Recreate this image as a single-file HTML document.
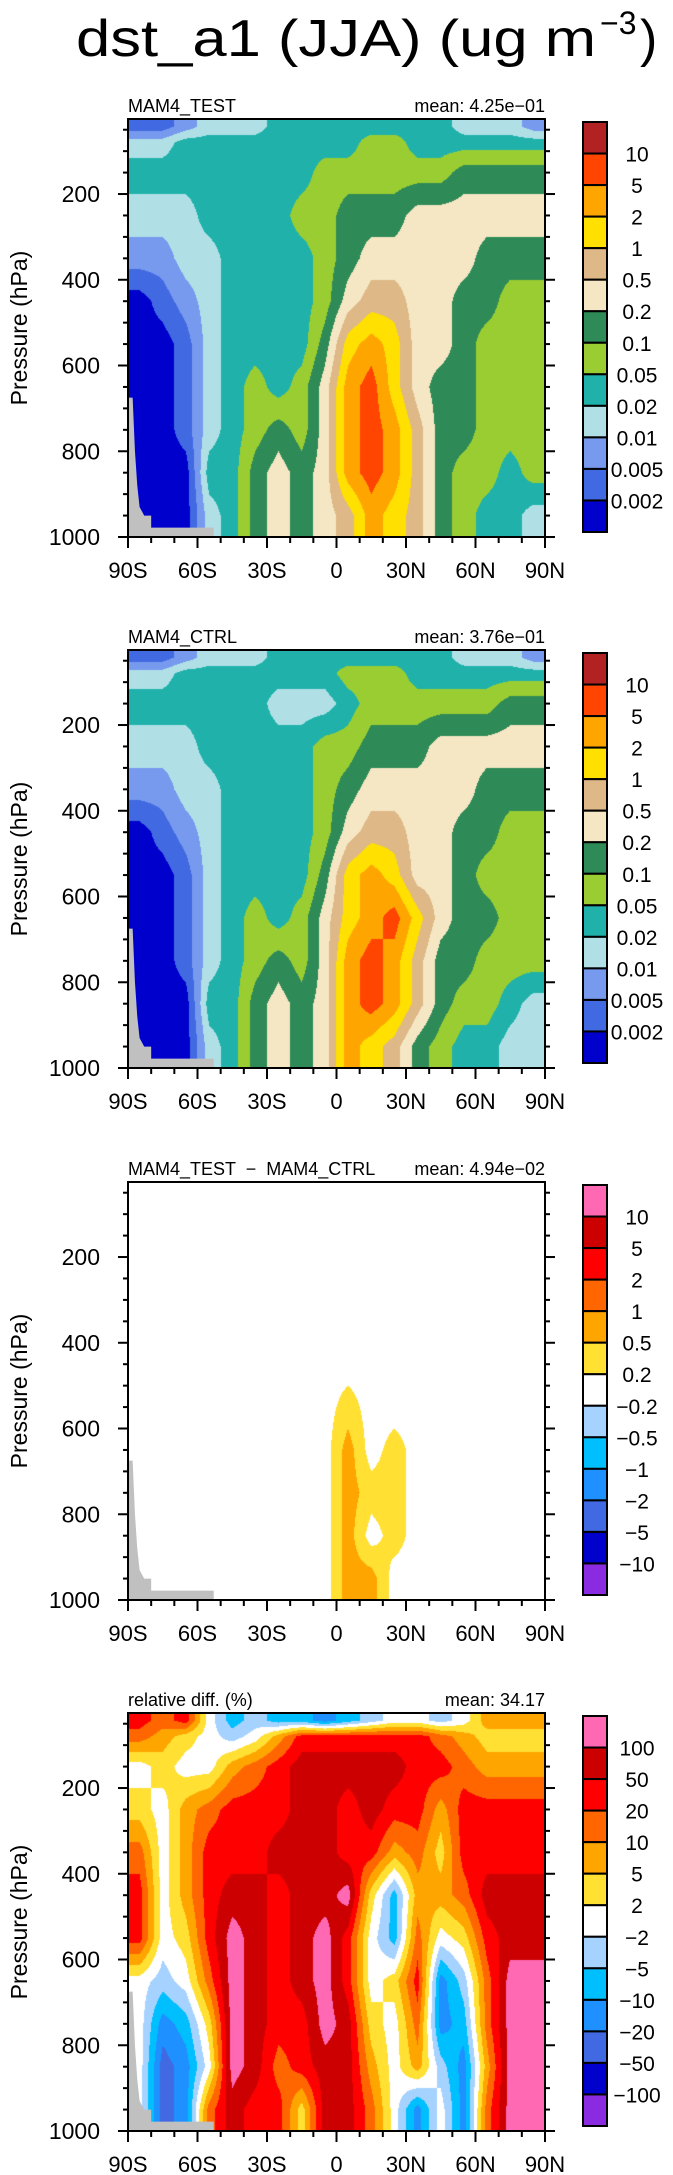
<!DOCTYPE html>
<html><head><meta charset="utf-8">
<style>
html,body{margin:0;padding:0;background:#fff;}
#wrap{position:relative;width:673px;height:2175px;overflow:hidden;background:#fff;}
canvas{position:absolute;}
svg{position:absolute;left:0;top:0;}
text{font-family:"Liberation Sans",sans-serif;fill:#000;}
</style></head>
<body>
<div id="wrap">
<canvas id="c0"></canvas>
<canvas id="c1"></canvas>
<canvas id="c2"></canvas>
<canvas id="c3"></canvas>
<svg id="svg" width="673" height="2175">
<text x="76" y="56" font-size="52" textLength="520" lengthAdjust="spacingAndGlyphs">dst_a1 (JJA) (ug m</text>
<text x="600" y="34" font-size="32">−3</text>
<text x="640" y="56" font-size="52">)</text>
</svg>
</div>
<script>
// ---- data ----
const latCenters = [-85,-75,-65,-55,-45,-35,-25,-15,-5,5,15,25,35,45,55,65,75,85];
const pBounds = [25,60,100,200,300,400,500,600,700,800,900,1000];
const yTicks = [200,400,600,800,1000];
const xTicks = [-90,-60,-30,0,30,60,90];
const xTickLabels = ["90S","60S","30S","0","30N","60N","90N"];
// level index per cell (hex digit), rows top->bottom
const gridTest = [
 "112333444444443332",
 "334444444455444444",
 "444444445555556666",
 "333444455666777777",
 "223344445677777666",
 "012344445788776655",
 "0013444469a9776555",
 "001345457ab9766555",
 "001345657aba866555",
 "000446767aba865545",
 "0003467678a9865443"
];
const gridCtrl = [
 "112333444444443332",
 "334444444555444444",
 "444444333455555566",
 "333444445566677777",
 "223344445677777666",
 "012344445788776655",
 "0013444469a9776555",
 "0013454579ab976655",
 "001345657aba866555",
 "000446767aba865543",
 "000346767a98654433"
];
const gridDiff = [
 "666666666666666666",
 "666666666666666666",
 "666666666666666666",
 "666666666666666666",
 "666666666666666666",
 "666666666666666666",
 "666666666766666666",
 "666666666867666666",
 "666666666877666666",
 "666666666867666666",
 "666666666886666666"
];
const gridRel = [
 "a9a645443456656888",
 "9876568aaaaaa98777",
 "676689abbbbbaa9888",
 "7689aaabbabaa8aaaa",
 "968aaabbbaa897aaaa",
 "a68abbabbc74889bbb",
 "a67acbabca64967abb",
 "6569cbabca67a359cc",
 "6347cbaacb769349cc",
 "6236cb9abb868538cc",
 "6239baa7bb963639cc"
];
const terrainLat = [-90,-90,-88,-87,-86,-85,-83,-80,-80,-53,-53];
const terrainP   = [1000,675,675,800,880,930,950,950,978,978,1000];
const cbLabels = [
 ["10","5","2","1","0.5","0.2","0.1","0.05","0.02","0.01","0.005","0.002"],
 ["10","5","2","1","0.5","0.2","0.1","0.05","0.02","0.01","0.005","0.002"],
 ["10","5","2","1","0.5","0.2","−0.2","−0.5","−1","−2","−5","−10"],
 ["100","50","20","10","5","2","−2","−5","−10","−20","−50","−100"]
];
const titlesL = ["MAM4_TEST","MAM4_CTRL","MAM4_TEST  −  MAM4_CTRL","relative diff. (%)"];
const titlesR = ["mean: 4.25e−01","mean: 3.76e−01","mean: 4.94e−02","mean: 34.17"];
// ---- styles ----
const colA = ["#0000CD","#4169E1","#7799EE","#B0E0E6","#20B2AA","#9ACD32","#2E8B57","#F5E6C4","#DEB887","#FFE000","#FFA500","#FF4500","#B22222"];
const colB = ["#8A2BE2","#0000CD","#4169E1","#1E90FF","#00BFFF","#A6D2FF","#FFFFFF","#FFE033","#FFA500","#FF6600","#FF0000","#CC0000","#FF69B4"];
const grids=[gridTest,gridCtrl,gridDiff,gridRel];
const cols=[colA,colA,colB,colB];
const L=128,R=545,W=R-L,H=418,pTop=25;
const tops=[119,650,1182,1713];
const NS="http://www.w3.org/2000/svg";
const svg=document.getElementById('svg');
function xS(lat){return L+(lat+90)/180*W;}
function yS(p,t){return t+(p-pTop)/(1000-pTop)*H;}
function mk(tag,attrs,parent){const e=document.createElementNS(NS,tag);for(const k in attrs)e.setAttribute(k,attrs[k]);(parent||svg).appendChild(e);return e;}
function hex2rgb(h){return [parseInt(h.substr(1,2),16),parseInt(h.substr(3,2),16),parseInt(h.substr(5,2),16)];}
const rowC=[];for(let i=0;i<pBounds.length-1;i++)rowC.push((pBounds[i]+pBounds[i+1])/2);
function val(grid,r,c){return parseInt(grid[r][c],16);}
for(let k=0;k<4;k++){
  const t=tops[k],grid=grids[k],pal=cols[k].map(hex2rgb);
  const cv=document.getElementById('c'+k);
  cv.width=W;cv.height=H;cv.style.left=L+'px';cv.style.top=t+'px';
  const ctx=cv.getContext('2d');const img=ctx.createImageData(W,H);
  for(let py=0;py<H;py++){
    const p=pTop+(py+0.5)/H*(1000-pTop);
    let fi;
    if(p<=rowC[0])fi=0;else if(p>=rowC[rowC.length-1])fi=rowC.length-1;
    else{let i=0;while(rowC[i+1]<p)i++;fi=i+(p-rowC[i])/(rowC[i+1]-rowC[i]);}
    const i0=Math.floor(fi),i1=Math.min(i0+1,rowC.length-1),fy=fi-i0;
    for(let px=0;px<W;px++){
      const lat=-90+(px+0.5)/W*180;
      let fj=(lat-latCenters[0])/10;fj=Math.max(0,Math.min(latCenters.length-1,fj));
      const j0=Math.floor(fj),j1=Math.min(j0+1,latCenters.length-1),fx=fj-j0;
      const v=(val(grid,i0,j0)*(1-fx)+val(grid,i0,j1)*fx)*(1-fy)+(val(grid,i1,j0)*(1-fx)+val(grid,i1,j1)*fx)*fy;
      const lv=Math.max(0,Math.min(12,Math.round(v)));const c=pal[lv];const o=(py*W+px)*4;
      img.data[o]=c[0];img.data[o+1]=c[1];img.data[o+2]=c[2];img.data[o+3]=255;
    }
  }
  ctx.putImageData(img,0,0);
  // terrain
  let pts=terrainLat.map((la,i)=>xS(la)+','+yS(terrainP[i],t));
  const ter=mk('polygon',{points:pts.join(' '),fill:'#C0C0C0'});
  
  
  // frame
  const fr=mk('rect',{x:L,y:t,width:W,height:H,fill:'none',stroke:'#000','stroke-width':2});
  
  
  // y ticks
  for(let p=50;p<=1000;p+=50){
    const y=yS(p,t),maj=(p%200===0),len=maj?10:5;
    mk('line',{x1:L-len,x2:L,y1:y,y2:y,stroke:'#000','stroke-width':2});
    mk('line',{x1:R,x2:R+len,y1:y,y2:y,stroke:'#000','stroke-width':2});
  }
  yTicks.forEach(p=>{const tx=mk('text',{x:L-28,y:yS(p,t)+8,'font-size':23,'text-anchor':'end'});tx.textContent=p;
    
    });
  for(let la=-90;la<=90;la+=10){
    const x=xS(la),len=(la%30===0)?11:6;
    mk('line',{x1:x,x2:x,y1:t+H,y2:t+H+len,stroke:'#000','stroke-width':2});
  }
  xTicks.forEach((la,i)=>{const tx=mk('text',{x:xS(la),y:t+H+41,'font-size':22,'text-anchor':'middle'});tx.textContent=xTickLabels[i];
    
    });
  const yt=mk('text',{x:0,y:0,'font-size':23,'text-anchor':'middle',transform:`translate(27,${t+H/2}) rotate(-90)`});
  yt.textContent='Pressure (hPa)';
  
  
  const tl=mk('text',{x:L,y:t-7,'font-size':18,'xml:space':'preserve'});tl.textContent=titlesL[k];
  
  
  tl.style.whiteSpace='pre';
  const tr=mk('text',{x:R,y:t-7,'font-size':18,'text-anchor':'end'});tr.textContent=titlesR[k];
  
  
  // colorbar
  const cbT=t+3,cbH=H-8,bh=cbH/13,cbx=583,cbw=24;
  for(let b=0;b<13;b++){
    const r=mk('rect',{x:cbx,y:cbT+b*bh,width:cbw,height:bh,fill:cols[k][12-b],stroke:'#000','stroke-width':2});
    
    
  }
  cbLabels[k].forEach((s,i)=>{const tx=mk('text',{x:637,y:cbT+(i+1)*bh+8,'font-size':21,'text-anchor':'middle'});tx.textContent=s;
    
    });
}
</script>
</body></html>
